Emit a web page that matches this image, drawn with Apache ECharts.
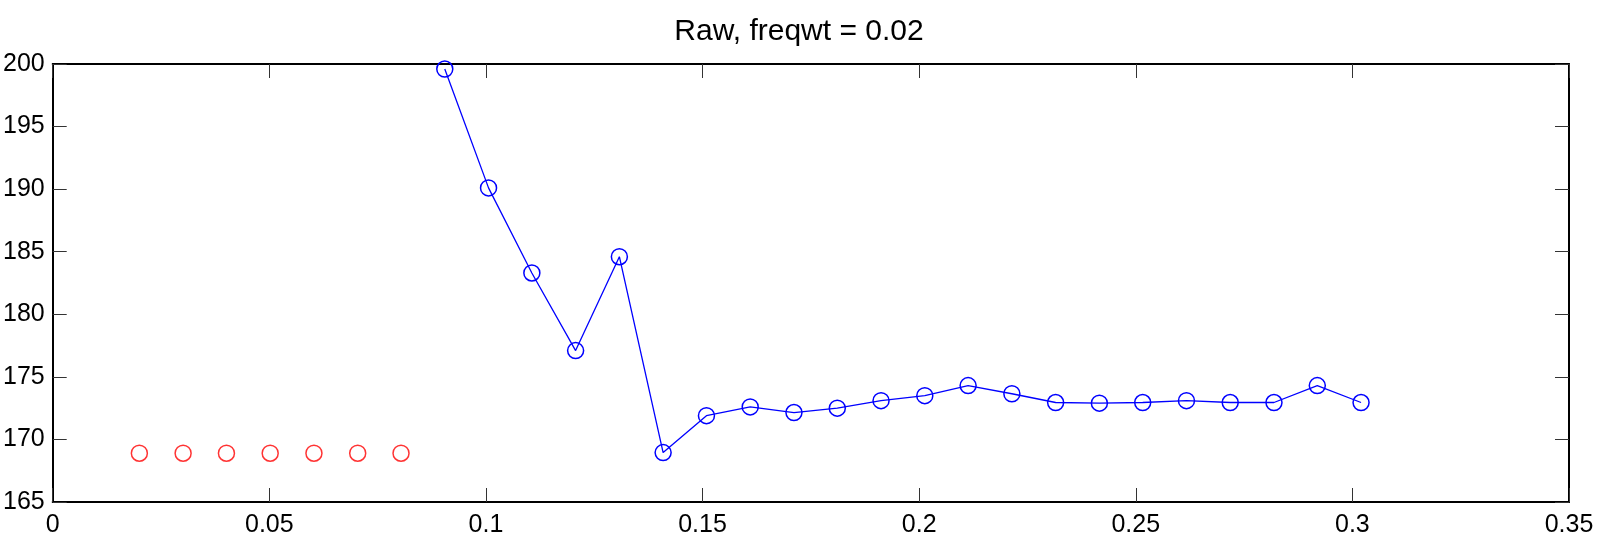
<!DOCTYPE html>
<html>
<head>
<meta charset="utf-8">
<script src="https://cdn.jsdelivr.net/npm/echarts@6/dist/echarts.min.js"></script>
<style>html,body{margin:0;padding:0;background:#fff}#c{width:1598px;height:541px}</style>
</head>
<body>
<div id="c"></div>
<script>
const titleText = "Raw, freqwt = 0.02";
const redX = [0.0200, 0.0301, 0.0401, 0.0502, 0.0603, 0.0704, 0.0804];
const redY = [168.9, 168.9, 168.9, 168.9, 168.9, 168.9, 168.9];
const blueX = [0.0905, 0.1006, 0.1106, 0.1207, 0.1308, 0.1409, 0.1509, 0.1610, 0.1711, 0.1811, 0.1912,
               0.2013, 0.2113, 0.2214, 0.2315, 0.2416, 0.2516, 0.2617, 0.2718, 0.2819, 0.2919, 0.3020];
const blueY = [199.6, 190.1, 183.3, 177.1, 184.6, 168.95, 171.9, 172.6, 172.15, 172.5, 173.1,
               173.5, 174.3, 173.65, 172.95, 172.9, 172.95, 173.1, 172.95, 172.95, 174.3, 172.95];
const xTicks = {min: 0, max: 0.35, interval: 0.05};
const yTicks = {min: 165, max: 200, interval: 5};

const font = '"Liberation Sans", Arial, Helvetica, sans-serif';
const axisLine = {show: true, onZero: false, lineStyle: {color: '#000', width: 2}};
const axisTick = {show: true, inside: true, length: 14, lineStyle: {color: '#333', width: 1}};
const lbl = {color: '#000', fontSize: 25, fontFamily: font};
const fmt = v => String(+(+v).toFixed(2));

const chart = echarts.init(document.getElementById('c'), null, {renderer: 'canvas'});
chart.setOption({
  animation: false,
  backgroundColor: '#fff',
  title: {text: titleText, left: 'center', top: 12,
          textStyle: {color: '#000', fontSize: 30, fontWeight: 'normal', fontFamily: font}},
  grid: {left: 50, right: 29, top: 64, bottom: 39},
  xAxis: [
    {type: 'value', min: xTicks.min, max: xTicks.max, interval: xTicks.interval, position: 'bottom',
     axisLine, axisTick, splitLine: {show: false},
     axisLabel: Object.assign({margin: 11, formatter: fmt, showMinLabel: true, showMaxLabel: true}, lbl)},
    {type: 'value', min: xTicks.min, max: xTicks.max, interval: xTicks.interval, position: 'top',
     axisLine, axisTick, splitLine: {show: false}, axisLabel: {show: false}}
  ],
  yAxis: [
    {type: 'value', min: yTicks.min, max: yTicks.max, interval: yTicks.interval, position: 'left',
     axisLine, axisTick, splitLine: {show: false},
     axisLabel: Object.assign({margin: 8, formatter: fmt, showMinLabel: true, showMaxLabel: true}, lbl)},
    {type: 'value', min: yTicks.min, max: yTicks.max, interval: yTicks.interval, position: 'right',
     axisLine, axisTick, splitLine: {show: false}, axisLabel: {show: false}}
  ],
  series: [
    {type: 'scatter', xAxisIndex: 0, yAxisIndex: 0, clip: false,
     data: redX.map((x, i) => [x, redY[i]]),
     symbol: 'circle', symbolSize: 16,
     itemStyle: {color: 'rgba(0,0,0,0)', borderColor: '#ff0000', borderWidth: 1.5}},
    {type: 'line', xAxisIndex: 0, yAxisIndex: 0, clip: false,
     data: blueX.map((x, i) => [x, blueY[i]]),
     symbol: 'circle', symbolSize: 16, showAllSymbol: true,
     lineStyle: {color: '#0000ff', width: 1.3},
     itemStyle: {color: 'rgba(0,0,0,0)', borderColor: '#0000ff', borderWidth: 1.5}}
  ]
});
</script>
</body>
</html>
